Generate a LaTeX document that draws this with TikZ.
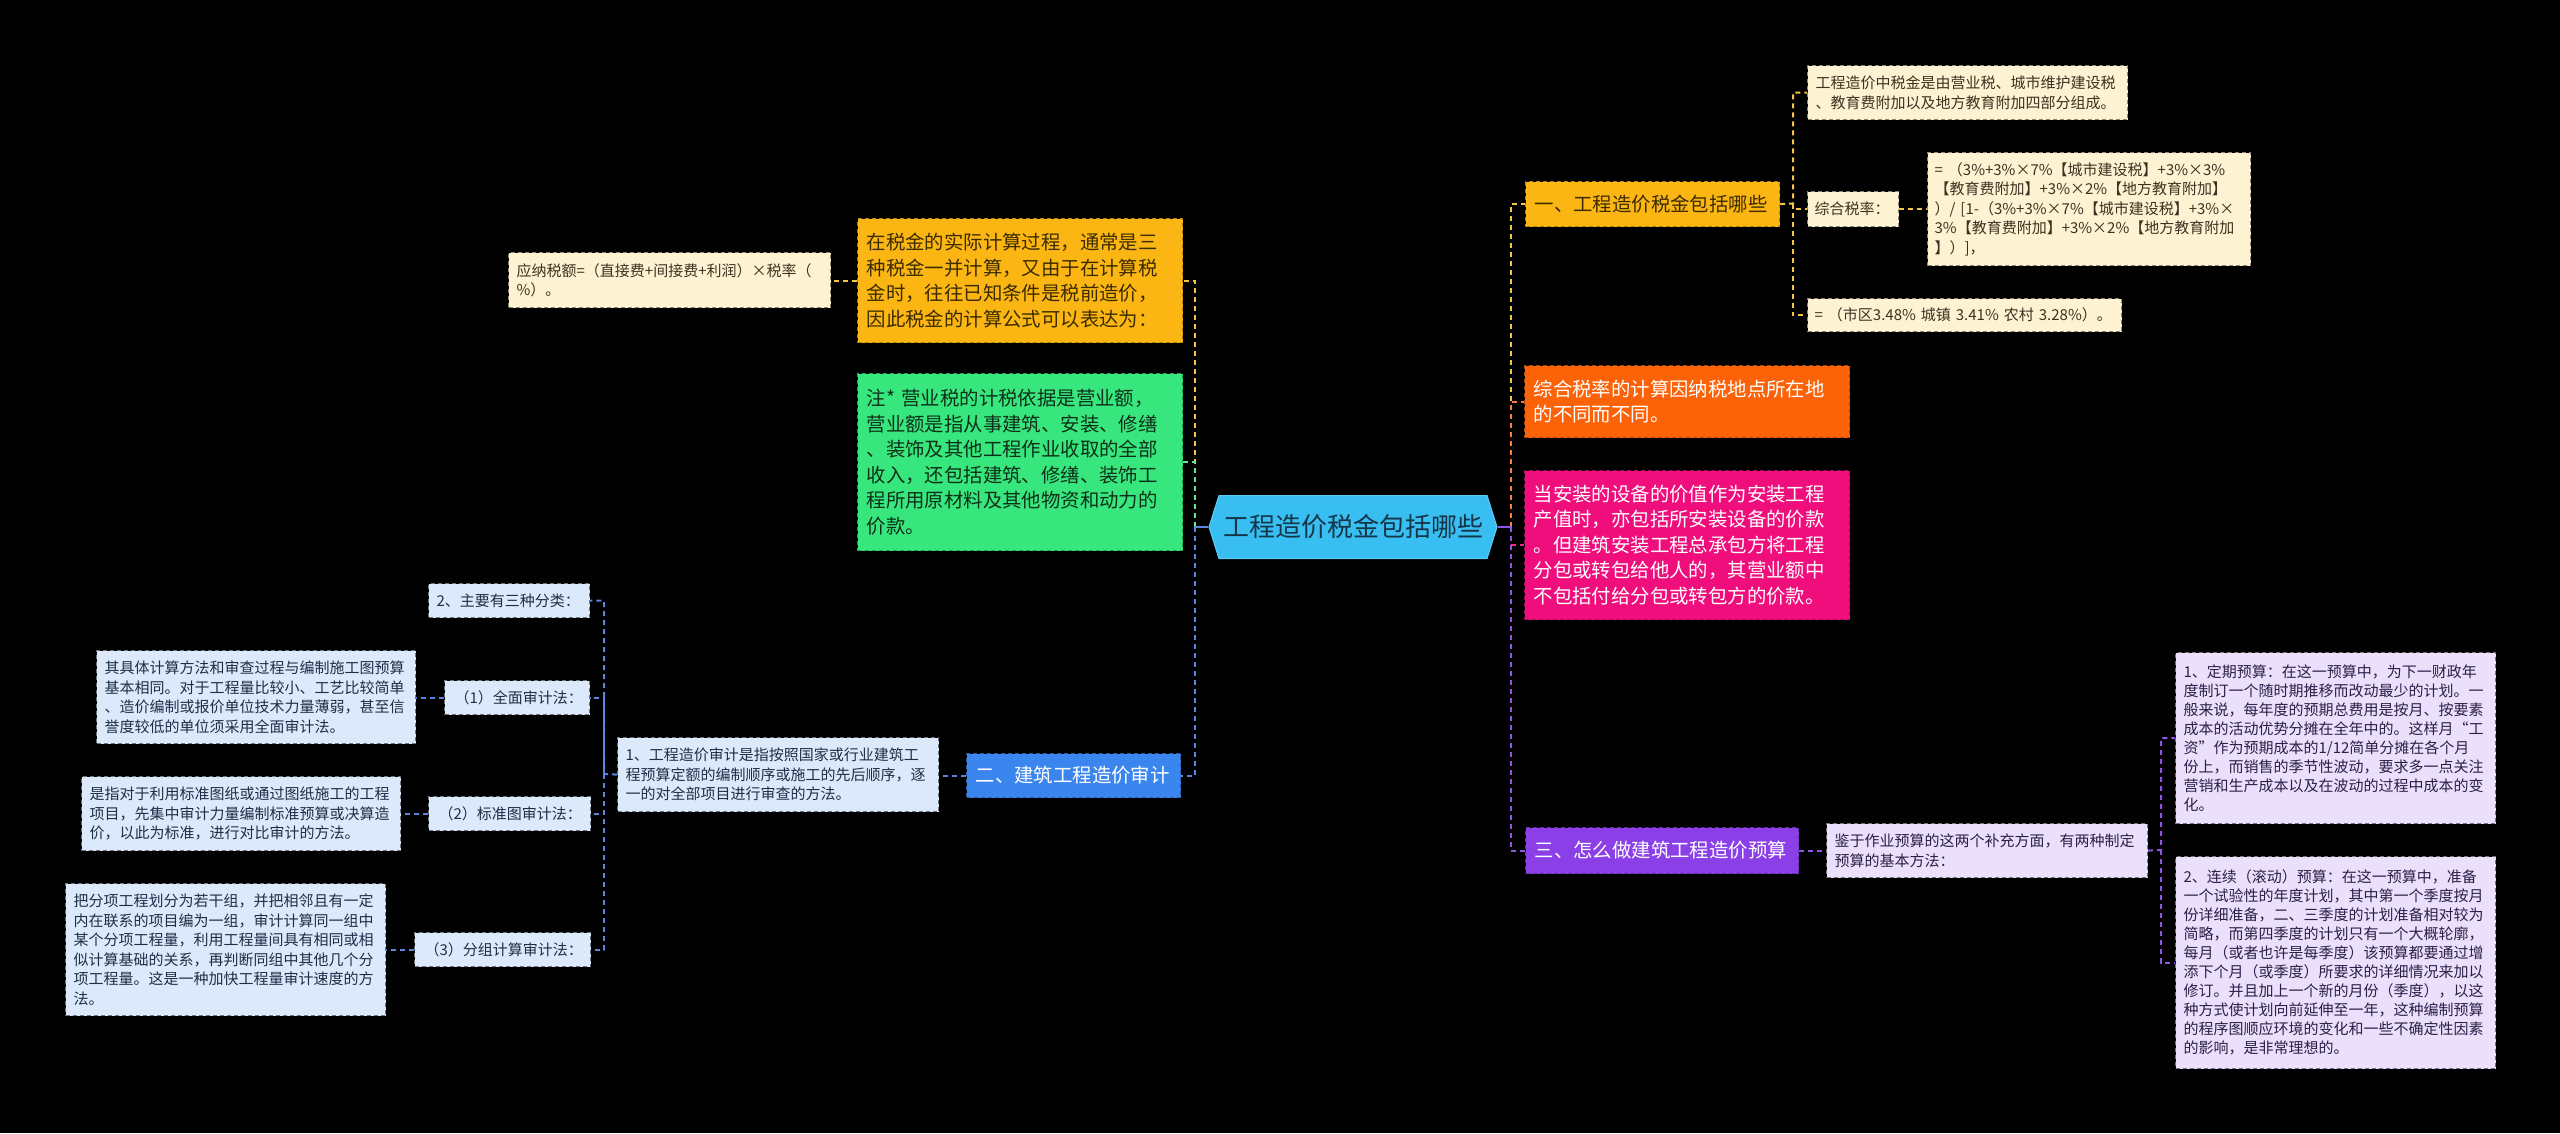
\documentclass[tikz,border=0pt]{standalone}
\usepackage{fontspec}
\setmainfont{Noto Sans CJK SC}
\usetikzlibrary{shapes.symbols}
\definecolor{rootfill}{HTML}{38BEF0}
\definecolor{roottext}{HTML}{15364A}
\definecolor{yelfill}{HTML}{FBB614}
\definecolor{yeltext}{HTML}{3B2C00}
\definecolor{creamfill}{HTML}{FDF2D2}
\definecolor{creamtext}{HTML}{3C3220}
\definecolor{orgfill}{HTML}{FC6207}
\definecolor{pinkfill}{HTML}{EF0E7B}
\definecolor{purfill}{HTML}{8B3FE6}
\definecolor{lavfill}{HTML}{EBE0FB}
\definecolor{lavtext}{HTML}{2B1F48}
\definecolor{grnfill}{HTML}{38E67E}
\definecolor{grntext}{HTML}{0E3018}
\definecolor{bluefill}{HTML}{3B86EE}
\definecolor{lbfill}{HTML}{DCE9FB}
\definecolor{lbtext}{HTML}{1F2E48}
\definecolor{cyel}{HTML}{F6C445}
\definecolor{corg}{HTML}{F7813A}
\definecolor{cpink}{HTML}{EF2D8A}
\definecolor{cpur}{HTML}{8F56E6}
\definecolor{cgrn}{HTML}{5EE88F}
\definecolor{cblue}{HTML}{5A86E0}
\tikzset{
  bx/.style={rectangle, draw, dash pattern=on 4pt off 3pt, line width=1.2pt, anchor=north west, align=left, inner xsep=9pt, inner ysep=0pt},
  sm/.style={font=\fontsize{15}{19.5}\selectfont},
  smb/.style={font=\fontsize{15}{19}\selectfont},
  lg/.style={font=\fontsize{19.4}{25.5}\selectfont},
  yel/.style={fill=yelfill, draw=yelfill!70!black, text=yeltext},
  cream/.style={fill=creamfill, draw=creamfill!55!black, text=creamtext},
  org/.style={fill=orgfill, draw=orgfill!70!black, text=white},
  pink/.style={fill=pinkfill, draw=pinkfill!70!black, text=white},
  pur/.style={fill=purfill, draw=purfill!70!black, text=white},
  lav/.style={fill=lavfill, draw=lavfill!50!black, text=lavtext},
  grn/.style={fill=grnfill, draw=grnfill!70!black, text=grntext},
  blu/.style={fill=bluefill, draw=bluefill!70!black, text=white},
  lb/.style={fill=lbfill, draw=lbfill!50!black, text=lbtext},
  ln/.style={line width=2pt},
  dsh/.style={ln, dash pattern=on 5pt off 4pt},
}
\begin{document}
\begin{tikzpicture}[x=1pt,y=1pt]
\fill[black] (0,0) rectangle (2560,-1133);
\useasboundingbox (0,0) rectangle (2560,-1133);

% root
\node[shape=signal, signal to=west and east, signal pointer angle=145, fill=rootfill, draw=rootfill!80!white, line width=1pt, minimum width=288pt, minimum height=63pt, inner sep=0pt, text=roottext, font=\fontsize{26}{30}\selectfont] (root) at (1353,-527) {工程造价税金包括哪些};

% right branch 1
\node[bx, yel, lg, minimum width=254pt, minimum height=45pt, text width=236pt] (y1) at (1525,-181) {一、工程造价税金包括哪些};
\node[bx, cream, sm, minimum width=320pt, minimum height=54pt, text width=304pt, inner xsep=8pt] (yA) at (1807,-65) {工程造价中税金是由营业税、城市维护建设税\\、教育费附加以及地方教育附加四部分组成。};
\node[bx, cream, sm, minimum width=91pt, minimum height=35pt, text width=77pt, inner xsep=7pt] (yB) at (1807,-191) {综合税率：};
\node[bx, cream, sm, minimum width=323pt, minimum height=113pt, text width=309pt, inner xsep=7pt] (yC) at (1927,-152) {= （3\%+3\%×7\%【城市建设税】+3\%×3\%\\【教育费附加】+3\%×2\%【地方教育附加】\\）/ [1-（3\%+3\%×7\%【城市建设税】+3\%×\\3\%【教育费附加】+3\%×2\%【地方教育附加\\】）]，};
\node[bx, cream, sm, minimum width=314pt, minimum height=33pt, text width=300pt, inner xsep=7pt] (yD) at (1807,-298) {= （市区3.48\% 城镇 3.41\% 农村 3.28\%）。};

% right branch 2,3
\node[bx, org, lg, minimum width=325pt, minimum height=72pt, text width=307pt] (o1) at (1524,-365) {综合税率的计算因纳税地点所在地\\的不同而不同。};
\node[bx, pink, lg, minimum width=325pt, minimum height=149pt, text width=307pt] (p1) at (1524,-470) {当安装的设备的价值作为安装工程\\产值时，亦包括所安装设备的价款\\。但建筑安装工程总承包方将工程\\分包或转包给他人的，其营业额中\\不包括付给分包或转包方的价款。};

% right branch 4
\node[bx, pur, lg, minimum width=273pt, minimum height=46pt, text width=255pt] (u1) at (1525,-827) {三、怎么做建筑工程造价预算};
\node[bx, lav, sm, minimum width=321pt, minimum height=54pt, text width=305pt, inner xsep=8pt] (uA) at (1826,-823) {鉴于作业预算的这两个补充方面，有两种制定\\预算的基本方法：};
\node[bx, lav, smb, minimum width=320pt, minimum height=171pt, text width=304pt, inner xsep=8pt] (uB) at (2175,-652) {1、定期预算：在这一预算中，为下一财政年\\度制订一个随时期推移而改动最少的计划。一\\般来说，每年度的预期总费用是按月、按要素\\成本的活动优势分摊在全年中的。这样月“工\\资”作为预期成本的1/12简单分摊在各个月\\份上，而销售的季节性波动，要求多一点关注\\营销和生产成本以及在波动的过程中成本的变\\化。};
\node[bx, lav, smb, minimum width=320pt, minimum height=212pt, text width=304pt, inner xsep=8pt] (uC) at (2175,-856) {2、连续（滚动）预算：在这一预算中，准备\\一个试验性的年度计划，其中第一个季度按月\\份详细准备，二、三季度的计划准备相对较为\\简略，而第四季度的计划只有一个大概轮廓，\\每月（或者也许是每季度）该预算都要通过增\\添下个月（或季度）所要求的详细情况来加以\\修订。并且加上一个新的月份（季度），以这\\种方式使计划向前延伸至一年，这种编制预算\\的程序图顺应环境的变化和一些不确定性因素\\的影响，是非常理想的。};

% left branches
\node[bx, yel, lg, minimum width=325pt, minimum height=124pt, text width=307pt] (L1) at (857,-218) {在税金的实际计算过程，通常是三\\种税金一并计算，又由于在计算税\\金时，往往已知条件是税前造价，\\因此税金的计算公式可以表达为：};
\node[bx, cream, sm, minimum width=322pt, minimum height=55pt, text width=306pt, inner xsep=8pt] (L1a) at (508,-252) {应纳税额=（直接费+间接费+利润）×税率（\\\%）。};
\node[bx, grn, lg, minimum width=325pt, minimum height=177pt, text width=307pt] (L2) at (857,-373) {注* 营业税的计税依据是营业额，\\营业额是指从事建筑、安装、修缮\\、装饰及其他工程作业收取的全部\\收入，还包括建筑、修缮、装饰工\\程所用原材料及其他物资和动力的\\价款。};
\node[bx, blu, lg, minimum width=214pt, minimum height=44pt, text width=196pt] (L3) at (966,-753) {二、建筑工程造价审计};
\node[bx, lb, sm, minimum width=321pt, minimum height=74pt, text width=305pt, inner xsep=8pt] (L3a) at (617,-737) {1、工程造价审计是指按照国家或行业建筑工\\程预算定额的编制顺序或施工的先后顺序，逐\\一的对全部项目进行审查的方法。};
\node[bx, lb, sm, minimum width=161pt, minimum height=34pt, text width=145pt, inner xsep=8pt] (s0) at (428,-583) {2、主要有三种分类：};
\node[bx, lb, sm, minimum width=145pt, minimum height=34pt, text width=125pt, inner xsep=10pt] (s1) at (444,-680) {（1）全面审计法：};
\node[bx, lb, sm, minimum width=319pt, minimum height=93pt, text width=303pt, inner xsep=8pt] (s1a) at (96,-650) {其具体计算方法和审查过程与编制施工图预算\\基本相同。对于工程量比较小、工艺比较简单\\、造价编制或报价单位技术力量薄弱，甚至信\\誉度较低的单位须采用全面审计法。};
\node[bx, lb, sm, minimum width=162pt, minimum height=34pt, text width=142pt, inner xsep=10pt] (s2) at (428,-796) {（2）标准图审计法：};
\node[bx, lb, sm, minimum width=319pt, minimum height=74pt, text width=303pt, inner xsep=8pt] (s2a) at (81,-776) {是指对于利用标准图纸或通过图纸施工的工程\\项目，先集中审计力量编制标准预算或决算造\\价，以此为标准，进行对比审计的方法。};
\node[bx, lb, sm, minimum width=176pt, minimum height=34pt, text width=156pt, inner xsep=10pt] (s3) at (414,-932) {（3）分组计算审计法：};
\node[bx, lb, sm, minimum width=320pt, minimum height=132pt, text width=304pt, inner xsep=8pt] (s3a) at (65,-883) {把分项工程划分为若干组，并把相邻且有一定\\内在联系的项目编为一组，审计计算同一组中\\某个分项工程量，利用工程量间具有相同或相\\似计算基础的关系，再判断同组中其他几个分\\项工程量。这是一种加快工程量审计速度的方\\法。};

% trunk coordinates
\coordinate (rt) at (1511,-527);
\coordinate (lt) at (1195,-527);
\coordinate (yt) at (1793,-203.5);
\coordinate (ut) at (2161,-850);
\coordinate (bt) at (604,-774);

% right connectors
\draw[cyel, ln] (root.east) -- (rt); \draw[cyel, dsh] (rt) |- (y1.west);
\draw[corg, ln] (root.east) -- (rt); \draw[corg, dsh] (rt) |- (o1.west);
\draw[cpink, ln] (root.east) -- (rt); \draw[cpink, dsh] (rt) |- (p1.west);
\draw[cpur, ln] (root.east) -- (rt); \draw[cpur, dsh] (rt) |- (u1.west);

\draw[cyel, dsh] (y1.east) -- (yt) |- (yA.west);
\draw[cyel, dsh] (yt) |- (yB.west);
\draw[cyel, dsh] (yt) |- (yD.west);
\draw[cyel, dsh] (yB.east) -- (yC.west |- yB.east);

\draw[cpur, dsh] (u1.east) -- (uA.west |- u1.east);
\draw[cpur, dsh] (uA.east) -- (ut) |- (uB.west);
\draw[cpur, dsh] (ut) |- (uC.west);

% left connectors
\draw[cyel, ln] (root.west) -- (lt); \draw[cyel, dsh] (lt) |- (L1.east);
\draw[cgrn, ln] (root.west) -- (lt); \draw[cgrn, dsh] (lt) |- (L2.east);
\draw[cblue, ln] (root.west) -- (lt); \draw[cblue, dsh] (lt) |- (L3.east);

\draw[cyel, dsh] (L1.west) -- (L1a.east |- L1.west);
\draw[cblue, dsh] (L3.west) -- (L3a.east |- L3.west);
\draw[cblue, dsh] (L3a.west) -- (bt) |- (s0.east);
\draw[cblue, dsh] (bt) |- (s1.east);
\draw[cblue, dsh] (bt) |- (s2.east);
\draw[cblue, dsh] (bt) |- (s3.east);
\draw[cblue, dsh] (s1.west) -- (s1a.east |- s1.west);
\draw[cblue, dsh] (s2.west) -- (s2a.east |- s2.west);
\draw[cblue, dsh] (s3.west) -- (s3a.east |- s3.west);
\end{tikzpicture}
\end{document}
